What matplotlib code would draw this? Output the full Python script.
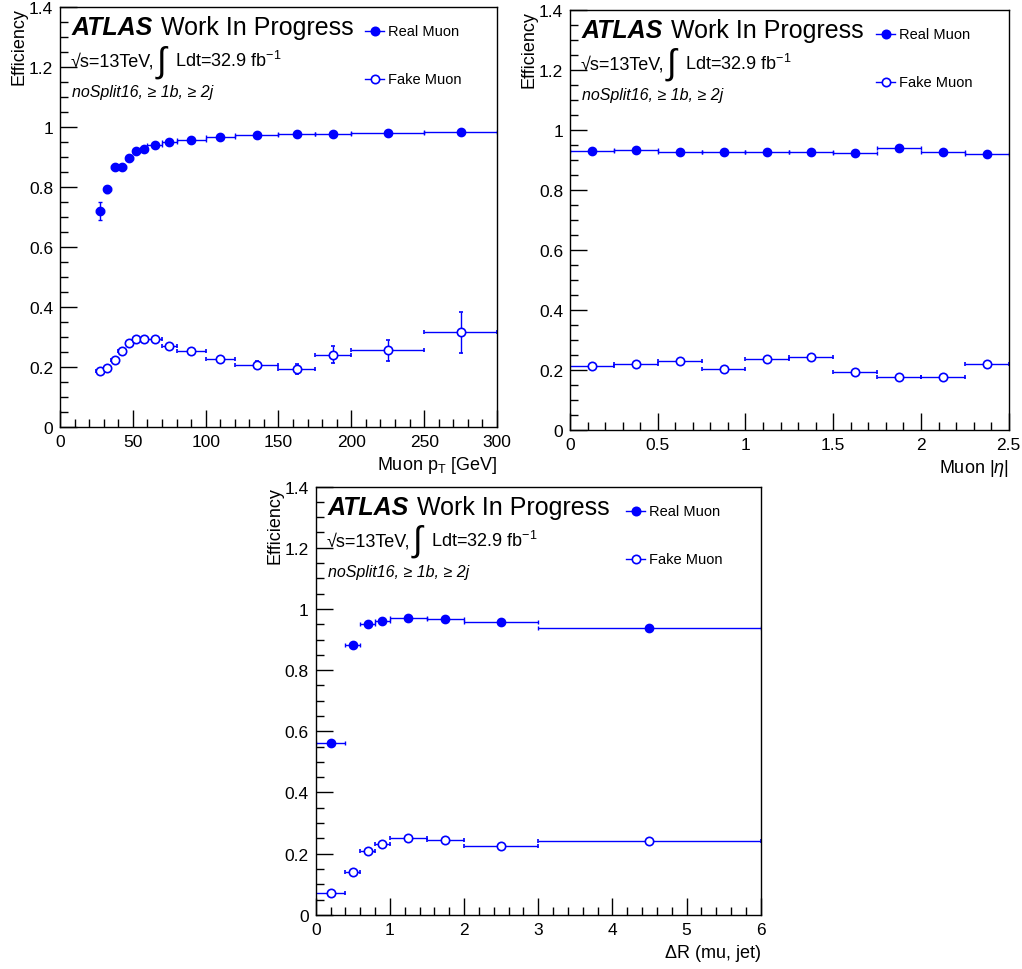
import matplotlib
matplotlib.use('Agg')
import matplotlib.pyplot as plt
from matplotlib.lines import Line2D
from matplotlib.ticker import MultipleLocator, FuncFormatter
from matplotlib.transforms import offset_copy

plt.rcParams['font.family'] = ['Liberation Sans', 'DejaVu Sans']
plt.rcParams['mathtext.fontset'] = 'custom'
plt.rcParams['mathtext.rm'] = 'Liberation Sans'
plt.rcParams['mathtext.it'] = 'Liberation Sans:italic'
plt.rcParams['mathtext.bf'] = 'Liberation Sans:bold'

# muon pT bins [GeV]
ptEdges = [25, 30, 35, 40, 45, 50, 55, 60, 70, 80, 100, 120, 150, 175, 200, 250, 300]
ptReal = [0.719, 0.792, 0.867, 0.868, 0.898, 0.919, 0.928, 0.939, 0.950, 0.958,
          0.965, 0.973, 0.975, 0.975, 0.980, 0.984]
ptRealErr = [0.030, 0.012, 0.006, 0.005, 0.004, 0.004, 0.003, 0.003, 0.003, 0.002,
             0.002, 0.002, 0.002, 0.002, 0.002, 0.003]
ptFake = [0.185, 0.195, 0.224, 0.254, 0.280, 0.293, 0.294, 0.292, 0.270, 0.253,
          0.228, 0.208, 0.193, 0.241, 0.255, 0.315]
ptFakeErr = [0.005, 0.005, 0.005, 0.005, 0.005, 0.005, 0.006, 0.006, 0.007, 0.007,
             0.009, 0.011, 0.018, 0.029, 0.035, 0.067]

# muon |eta| bins
etaEdges = [0.0, 0.25, 0.5, 0.75, 1.0, 1.25, 1.5, 1.75, 2.0, 2.25, 2.5]
etaReal = [0.929, 0.932, 0.925, 0.927, 0.927, 0.927, 0.922, 0.938, 0.927, 0.920]
etaRealErr = [0.003, 0.003, 0.003, 0.003, 0.003, 0.003, 0.003, 0.003, 0.003, 0.003]
etaFake = [0.213, 0.219, 0.228, 0.203, 0.235, 0.242, 0.193, 0.177, 0.177, 0.218]
etaFakeErr = [0.006, 0.006, 0.006, 0.006, 0.006, 0.006, 0.006, 0.006, 0.006, 0.006]

# dR(mu, jet) bins
drEdges = [0.0, 0.4, 0.6, 0.8, 1.0, 1.5, 2.0, 3.0, 6.0]
drReal = [0.561, 0.883, 0.951, 0.959, 0.970, 0.966, 0.956, 0.937]
drRealErr = [0.004, 0.004, 0.003, 0.003, 0.002, 0.002, 0.002, 0.002]
drFake = [0.073, 0.140, 0.210, 0.232, 0.252, 0.246, 0.226, 0.240]
drFakeErr = [0.004, 0.005, 0.005, 0.005, 0.004, 0.004, 0.004, 0.004]

BLUE = '#0000ff'
fig = plt.figure(figsize=(10.22, 9.7), dpi=100)


def px(ax, dx, dy):
    # offset in pixels from the axes top-left corner
    return dict(xy=(0, 1), xycoords='axes fraction', xytext=(dx, dy),
                textcoords='offset pixels')


def drawPanel(rect, edges, real, realErr, fake, fakeErr, xmax, major, minor, xlabel):
    ax = fig.add_axes(rect)
    centers = [(edges[i] + edges[i + 1]) / 2.0 for i in range(len(edges) - 1)]
    halfW = [(edges[i + 1] - edges[i]) / 2.0 for i in range(len(edges) - 1)]
    ax.errorbar(centers, fake, xerr=halfW, yerr=fakeErr, fmt='o', color=BLUE,
                ms=6, mfc='white', mec=BLUE, mew=1.2, elinewidth=1,
                capsize=1.5, capthick=1)
    ax.errorbar(centers, real, xerr=halfW, yerr=realErr, fmt='o', color=BLUE,
                ms=6, mfc=BLUE, mec=BLUE, elinewidth=1, capsize=1.5, capthick=1)
    ax.set_xlim(0, xmax)
    ax.set_ylim(0, 1.4)
    ax.xaxis.set_major_locator(MultipleLocator(major))
    ax.xaxis.set_minor_locator(MultipleLocator(minor))
    ax.yaxis.set_major_locator(MultipleLocator(0.2))
    ax.yaxis.set_minor_locator(MultipleLocator(0.05))
    fmt = FuncFormatter(lambda v, p: '%g' % round(v, 6))
    ax.xaxis.set_major_formatter(fmt)
    ax.yaxis.set_major_formatter(fmt)
    ax.tick_params(which='both', direction='in', top=False, right=False,
                   labelsize=12.5, width=1, colors='black')
    ax.tick_params(which='major', length=12, pad=5)
    ax.tick_params(which='minor', length=6)
    for s in ax.spines.values():
        s.set_linewidth(1)
    ax.set_xlabel(xlabel, loc='right', fontsize=13, labelpad=4)
    ax.set_ylabel('Efficiency', loc='top', fontsize=13, labelpad=1)

    # ATLAS label block
    ax.annotate('ATLAS', fontsize=18, fontweight='bold', fontstyle='italic',
                va='baseline', **px(ax, 12, -27))
    ax.annotate('Work In Progress', fontsize=18, va='baseline', **px(ax, 101, -27))
    ax.annotate('\u221as=13TeV,', fontsize=13, va='baseline', **px(ax, 11, -59))
    ax.annotate('\u222b', fontsize=25, va='center', **px(ax, 97, -54))
    ax.annotate(r'Ldt=32.9 fb$^{-1}$', fontsize=13, va='baseline', **px(ax, 115, -59))
    ax.annotate('noSplit16, \u2265 1b, \u2265 2j', fontsize=11.5, fontstyle='italic',
                va='baseline', **px(ax, 12, -89))

    # legend drawn by hand, ROOT style
    w = rect[2] * fig.bbox.width
    x0 = 0.72
    for i, (lab, face) in enumerate([('Real Muon', BLUE), ('Fake Muon', 'white')]):
        tr = offset_copy(ax.transAxes, fig=fig, x=0, y=-24 - 48 * i, units='dots')
        ax.add_line(Line2D([x0 - 10.0 / w, x0 + 9.0 / w], [1, 1], transform=tr,
                           color=BLUE, lw=1, clip_on=False))
        ax.add_line(Line2D([x0], [1], transform=tr, marker='o', ms=6, mfc=face,
                           mec=BLUE, mew=1.2, ls='none', clip_on=False))
        ax.text(x0 + 13.0 / w, 1, lab, transform=tr, fontsize=10.5, va='center')
    return ax


drawPanel([0.0587, 0.5588, 0.4276, 0.4330], ptEdges, ptReal, ptRealErr, ptFake,
          ptFakeErr, 300, 50, 10, r'Muon p$_\mathrm{T}$ [GeV]')
drawPanel([0.5577, 0.5560, 0.4293, 0.4330], etaEdges, etaReal, etaRealErr, etaFake,
          etaFakeErr, 2.5, 0.5, 0.1, r'Muon |$\eta$|')
drawPanel([0.3089, 0.0558, 0.4354, 0.4416], drEdges, drReal, drRealErr, drFake,
          drFakeErr, 6, 1, 0.2, r'$\Delta$R (mu, jet)')

fig.savefig('out.png', dpi=100)
